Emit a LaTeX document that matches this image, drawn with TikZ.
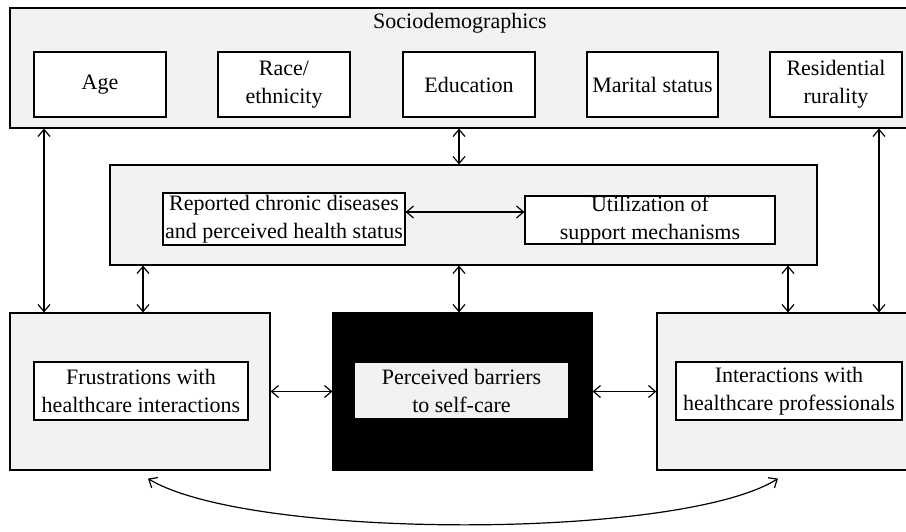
\documentclass[tikz,border=0pt]{standalone}
\usepackage{fontspec}
\setmainfont{Liberation Serif}
\usetikzlibrary{arrows.meta}
\definecolor{panel}{RGB}{241,242,241}
\begin{document}
\begin{tikzpicture}[x=0.5pt,y=-0.5pt,line width=0.6pt,
    >={Straight Barb[length=3.5pt,width=6pt]},
    panelbox/.style={draw,fill=panel,inner sep=0pt},
    itembox/.style={draw,fill=white,align=center,inner sep=0pt,
        minimum height=32.5pt},
    every node/.append style={font=\fontsize{11}{14}\selectfont}]
    \useasboundingbox (0,0) rectangle (906,531);
    % sociodemographics
    \node[panelbox,minimum width=450pt,minimum height=60pt] (socio) at (460,68) {};
    \node (title) at (460,23) {Sociodemographics};
    \node[itembox,minimum width=66pt] (age) at (100,84.5) {Age};
    \node[itembox,minimum width=66pt] (race) at (284,84.5) {Race/\\ethnicity};
    \node[itembox,minimum width=66pt] (edu) at (469,84.5) {Education};
    \node[itembox,minimum width=65.5pt] (marital) at (652.5,84.5) {Marital status};
    \node[itembox,minimum width=66pt] (rural) at (836,84.5) {Residential\\rurality};
    % health and support
    \node[panelbox,minimum width=353.5pt,minimum height=50pt] (mid) at (463.5,215) {};
    \node[itembox,minimum width=121pt,minimum height=26pt] (chronic) at (284,219)
        {Reported chronic diseases\\and perceived health status};
    \node[itembox,minimum width=125pt,minimum height=24pt] (support) at (650,220)
        {Utilization of\\support mechanisms};
    \draw[<->] ([yshift=3.5pt]chronic.east) -- ([yshift=3.5pt]chronic.east -| support.west);
    % bottom row
    \node[panelbox,minimum width=130pt,minimum height=78.5pt] (left) at (140,391.5) {};
    \node[draw,fill=black,inner sep=0pt,minimum width=129.5pt,minimum height=78.5pt]
        (barrier) at (462.5,391.5) {};
    \node[panelbox,minimum width=126.5pt,minimum height=78.5pt] (right) at (783.5,391.5) {};
    \node[itembox,minimum width=107pt,minimum height=29pt] (frust) at (141,391)
        {Frustrations with\\healthcare interactions};
    \node[fill=panel,align=center,inner sep=0pt,minimum width=106.5pt,minimum height=27.5pt]
        (percv) at (461.5,390.5) {Perceived barriers\\to self-care};
    \node[itembox,minimum width=113pt,minimum height=29pt] (inter) at (789,391)
        {Interactions with\\healthcare professionals};
    % connectors
    \coordinate (xl) at (44,0);
    \coordinate (xm) at (459,0);
    \coordinate (xr) at (879,0);
    \coordinate (xl2) at (143,0);
    \coordinate (xr2) at (788,0);
    \coordinate (cl) at (148,0);
    \coordinate (cr) at (778,0);
    \draw[<->] (socio.south -| xl) -- (left.north -| xl);
    \draw[<->] (socio.south -| xm) -- (mid.north -| xm);
    \draw[<->] (socio.south -| xr) -- (right.north -| xr);
    \draw[<->] (mid.south -| xl2) -- (left.north -| xl2);
    \draw[<->] (mid.south -| xm) -- (barrier.north -| xm);
    \draw[<->] (mid.south -| xr2) -- (right.north -| xr2);
    \draw[<->] (left.east) -- (barrier.west);
    \draw[<->] (barrier.east) -- (right.west);
    \draw[<->] ([yshift=-4pt]left.south -| cl) .. controls (250,540) and (680,540)
        .. ([yshift=-4pt]right.south -| cr);
\end{tikzpicture}
\end{document}
